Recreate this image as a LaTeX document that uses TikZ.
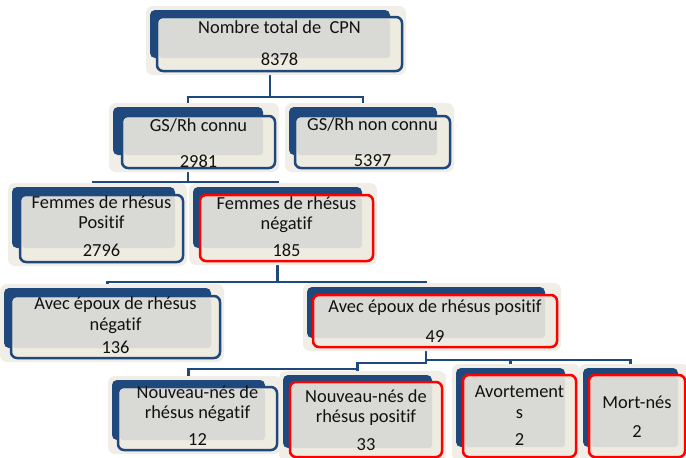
\documentclass[tikz,border=0pt]{standalone}
\usepackage{fontspec}
\setmainfont{Carlito}[Ligatures=NoCommon]
\usetikzlibrary{fit,backgrounds}
\definecolor{dblue}{HTML}{1F497D}
\definecolor{halo}{HTML}{F0EEE6}
\definecolor{cream}{HTML}{EEECE1}
\definecolor{gbox}{HTML}{D9DAD6}
\definecolor{ink}{HTML}{111111}
\definecolor{redline}{HTML}{FF0000}
\tikzset{
  backbox/.style={fill=dblue, rounded corners=5pt, inner sep=0pt, outer sep=0pt},
  frontbox/.style={fill=cream, draw=#1, line width=2.5pt, rounded corners=6pt, inner sep=0pt, outer sep=0pt},
  conn/.style={draw=dblue, line width=2.4pt},
  lbl/.style={anchor=base, text=ink, font=\fontsize{18.4}{20}\selectfont, inner sep=0pt},
}
\def\edgecol{dblue}
% #1 name, #2-#5 back box, #6-#9 front box
\newcommand\cpnbox[9]{%
  \fill[halo, rounded corners=7pt] (#2-4,#3-4) rectangle (#8+4,#9+4);
  \node[backbox, fit={(#2,#3) (#4,#5)}] (#1b) {};
  \node[frontbox=\edgecol, fit={(#6,#7) (#8,#9)}] (#1) {};
  \fill[gbox, rounded corners=3pt] (#6+2,#7+2) rectangle (#4,#5);
}
\begin{document}
\begin{tikzpicture}[x=1pt, y=-1pt]
\useasboundingbox (0,0) rectangle (686,458);

% boxes
\def\edgecol{dblue}
\cpnbox{n0}{150}{10}{390}{58}{157}{17}{402}{71}
\cpnbox{n1}{113}{107}{263}{155}{122}{116}{275}{168}
\cpnbox{n2}{289}{107}{437}{155}{295}{116}{450}{168}
\cpnbox{n3}{12}{187}{175}{248}{20}{195}{183}{262}
\def\edgecol{redline}
\cpnbox{n4}{193}{187}{362}{248}{200}{195}{373}{261}
\def\edgecol{dblue}
\cpnbox{n5}{4}{288}{211}{348}{11}{296}{220}{358}
\def\edgecol{redline}
\cpnbox{n6}{307}{287}{545}{338}{313}{295}{557}{347}
\def\edgecol{dblue}
\cpnbox{n7}{112}{380}{265}{440}{118}{387}{277}{450}
\def\edgecol{redline}
\cpnbox{n8}{283}{375}{432}{448}{290}{382}{442}{457}
\cpnbox{n9}{456}{368}{565}{447}{463}{375}{576}{457}
\cpnbox{n10}{583}{368}{678}{447}{589}{375}{685}{457}

% texts
\node[lbl] (n0t1) at (279.5,33) {Nombre total de~~CPN};
\node[lbl] (n0t2) at (279.5,65) {8378};
\node[lbl] (n1t1) at (198.5,131) {GS/Rh connu};
\node[lbl] (n1t2) at (198.5,167) {2981};
\node[lbl] (n2t1) at (372.5,130) {GS/Rh non connu};
\node[lbl] (n2t2) at (372.5,166) {5397};
\node[lbl] (n3t1) at (101.5,208) {Femmes de rhésus};
\node[lbl] (n3t2) at (101.5,228) {Positif};
\node[lbl] (n3t3) at (101.5,256) {2796};
\node[lbl] (n4t1) at (286.5,209) {Femmes de rhésus};
\node[lbl] (n4t2) at (286.5,229) {négatif};
\node[lbl] (n4t3) at (286.5,256) {185};
\node[lbl] (n5t1) at (115.5,309) {Avec époux de rhésus};
\node[lbl] (n5t2) at (115.5,330) {négatif};
\node[lbl] (n5t3) at (115.5,353) {136};
\node[lbl] (n6t1) at (435,312) {Avec époux de rhésus positif};
\node[lbl] (n6t2) at (435,342) {49};
\node[lbl] (n7t1) at (197.5,398) {Nouveau-nés de};
\node[lbl] (n7t2) at (197.5,418) {rhésus négatif};
\node[lbl] (n7t3) at (197.5,445) {12};
\node[lbl] (n8t1) at (366,402) {Nouveau-nés de};
\node[lbl] (n8t2) at (366,422) {rhésus positif};
\node[lbl] (n8t3) at (366,450) {33};
\node[lbl] (n9t1) at (519.5,397) {Avortement};
\node[lbl] (n9t2) at (519.5,418) {s};
\node[lbl] (n9t3) at (519.5,445) {2};
\node[lbl] (n10t1) at (637,408) {Mort-nés};
\node[lbl] (n10t2) at (637,437) {2};

% connectors
\begin{pgfonlayer}{background}
\fill[white] (0,0) rectangle (686,458);
\draw[conn] (n0b.south) |- (n1b.north |- 0,97) -- (n1b.north);
\draw[conn] (n0b.south) |- (n2b.north |- 0,97) -- (n2b.north);
\draw[conn] (n1b.south) |- (n3b.north |- 0,182) -- (n3b.north);
\draw[conn] (n1b.south) |- (n4b.north |- 0,182) -- (n4b.north);
\draw[conn] (n4b.south) |- (n5b.north |- 0,282) -- (n5b.north);
\draw[conn] (n4b.south) |- (n6b.north |- 0,282) -- (n6b.north);
\draw[conn] (n6b.south) |- (n8b.north |- 0,363) -- (n8b.north);
\draw[conn] (n8b.north |- 0,363) |- (n7b.north |- 0,369) -- (n7b.north);
\draw[conn] (n6b.south) |- (n10b.north |- 0,360) -- (n10b.north);
\draw[conn] (n9b.north |- 0,360) -- (n9b.north);
\end{pgfonlayer}
\end{tikzpicture}
\end{document}
